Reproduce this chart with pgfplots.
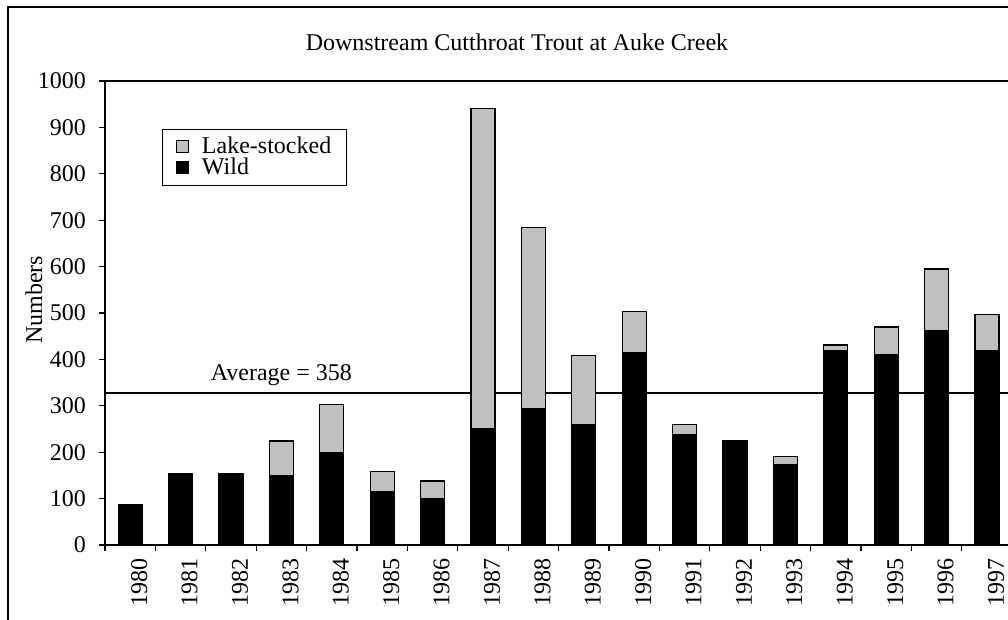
\documentclass[border=0pt]{standalone}
\usepackage{fontspec}
\setmainfont{Liberation Serif}
\usepackage{pgfplots}
\usepackage{pgfplotstable}
\pgfplotsset{compat=1.18}
\definecolor{lake}{HTML}{C0C0C0}
\pgfplotstableread{
i wild lake
0 86 0
1 154 0
2 154 0
3 149 75
4 200 102
5 114 45
6 101 37
7 251 689
8 293 392
9 259 150
10 414 90
11 237 22
12 224 0
13 173 17
14 419 12
15 411 59
16 462 133
17 419 77
}\data
\begin{document}
\begin{tikzpicture}[font=\fontsize{12}{14}\selectfont]
\useasboundingbox (0,0) rectangle (504pt,310pt);
\clip (0,0) rectangle (504pt,310pt);
\draw[line width=0.6pt] (4pt,-20pt) rectangle (530pt,306.5pt);
\node at (258.5pt,289pt) {Downstream Cutthroat Trout at Auke Creek};
\node[rotate=90] at (17pt,160pt) {Numbers};
\begin{axis}[
  at={(52.5pt,37.5pt)}, anchor=south west,
  scale only axis, width=453.6pt, height=232pt,
  xmin=-0.5, xmax=17.5, ymin=0, ymax=1000,
  ybar stacked, bar width=12pt,
  axis line style={line width=0.75pt},
  xtick={0,...,17},
  xticklabels={1980,1981,1982,1983,1984,1985,1986,1987,1988,1989,1990,1991,1992,1993,1994,1995,1996,1997},
  major x tick style={draw=none},
  minor xtick={-0.5,0.5,...,17.5},
  ytick={0,100,...,1000},
  tick align=outside, tick pos=left,
  major tick length=3pt, minor tick length=3pt,
  every tick/.style={black, line width=0.6pt},
  xticklabel style={rotate=90, anchor=east, yshift=-4.5pt},
  yticklabel style={xshift=-3pt},
  /pgf/number format/assume math mode=true,
  /pgf/number format/1000 sep={},
  reverse legend,
  legend style={at={(0.0625,0.896)}, anchor=north west, draw=black, line width=0.5pt,
    inner xsep=7pt, inner ysep=4pt, row sep=1.2pt, legend cell align=left,
    nodes={text height=7.2pt, text depth=1.2pt, inner sep=0.5pt},
    /tikz/every odd column/.append style={column sep=6pt},
    font=\fontsize{12}{13}\selectfont},
]
\addplot[fill=black, draw=black, line width=0.6pt,
  legend image code/.code={\draw[fill=black,draw=black,line width=0.6pt] (0pt,-2.6pt) rectangle (5.8pt,3.2pt);}]
  table[x=i, y=wild] {\data};
\addlegendentry{Wild}
\addplot[fill=lake, draw=black, line width=0.6pt,
  legend image code/.code={\draw[fill=lake,draw=black,line width=0.6pt] (0pt,-2.6pt) rectangle (5.8pt,3.2pt);}]
  table[x=i, y=lake] {\data};
\addlegendentry{Lake-stocked}
\draw[black, line width=0.75pt] (axis cs:-0.5,328) -- (axis cs:17.5,328);
\node at (axis cs:3.0,366) {Average = 358};
\end{axis}
\end{tikzpicture}
\end{document}
